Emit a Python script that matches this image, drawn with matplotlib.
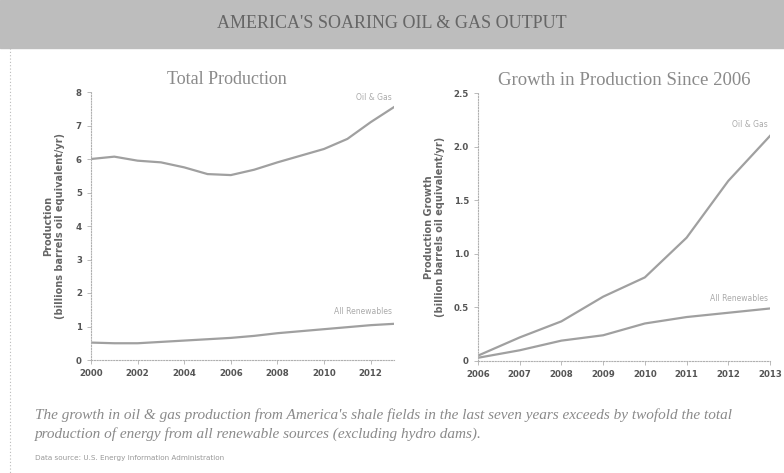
import matplotlib
matplotlib.use("Agg")
import matplotlib.pyplot as plt
import numpy as np

# total production (billion barrels oil equivalent / yr)
years_total = [2000, 2001, 2002, 2003, 2004, 2005, 2006, 2007, 2008, 2009, 2010, 2011, 2012, 2013]
oil_gas_total = [6.0, 6.07, 5.95, 5.9, 5.75, 5.55, 5.52, 5.68, 5.9, 6.1, 6.3, 6.6, 7.1, 7.55]
renew_total = [0.52, 0.5, 0.5, 0.54, 0.58, 0.62, 0.66, 0.72, 0.8, 0.86, 0.92, 0.98, 1.04, 1.08]

# growth since 2006
years_growth = [2006, 2007, 2008, 2009, 2010, 2011, 2012, 2013]
oil_gas_growth = [0.05, 0.22, 0.37, 0.6, 0.78, 1.15, 1.68, 2.1]
renew_growth = [0.03, 0.1, 0.19, 0.24, 0.35, 0.41, 0.45, 0.49]

line_col = "#a0a0a0"
txt_col = "#8a8a8a"
tick_col = "#555555"

fig = plt.figure(figsize=(7.84, 4.73), dpi=100)
W, H = 784, 473

def box(x0, y0, x1, y1):
    # pixel coords (top-left origin) -> figure fraction
    return [x0 / W, 1 - y1 / H, (x1 - x0) / W, (y1 - y0) / H]

# header band
fig.patches.append(plt.Rectangle((0, 1 - 48 / H), 1, 48 / H, transform=fig.transFigure,
                                 color="#bdbdbd", zorder=0))
fig.text(0.5, 1 - 23 / H, "AMERICA'S SOARING OIL & GAS OUTPUT", ha="center", va="center",
         fontsize=13, color="#666666", family="Liberation Serif")

# left dotted border
fig.add_artist(plt.Line2D([10 / W, 10 / W], [1 - 48 / H, 0], transform=fig.transFigure,
                          color="#bbbbbb", lw=0.8, ls=(0, (1, 2))))


def style(ax):
    for s in ["top", "right"]:
        ax.spines[s].set_visible(False)
    for s in ["left", "bottom"]:
        ax.spines[s].set_color("#b0b0b0")
        ax.spines[s].set_linestyle((0, (1, 1.5)))
        ax.spines[s].set_linewidth(0.8)
    ax.tick_params(colors="#b0b0b0", labelcolor=tick_col, labelsize=6.2, length=3, width=0.6)
    for lab in ax.get_xticklabels() + ax.get_yticklabels():
        lab.set_fontweight("bold")


# left panel
ax1 = fig.add_axes(box(91, 92, 394, 360))
ax1.plot(years_total, oil_gas_total, color=line_col, lw=1.6)
ax1.plot(years_total, renew_total, color=line_col, lw=1.6)
ax1.set_xlim(2000, 2013)
ax1.set_ylim(0, 8)
ax1.set_xticks([2000, 2002, 2004, 2006, 2008, 2010, 2012])
ax1.set_yticks(range(0, 9))
style(ax1)
ax1.set_ylabel("Production\n(billions barrels oil equivalent/yr)", fontsize=7, color="#666666",
               fontweight="bold", labelpad=8)
ax1.set_title("Total Production", fontsize=13, color=txt_col, family="Liberation Serif",
              pad=6, x=0.45)
ax1.text(2012.9, oil_gas_total[-1] + 0.2, "Oil & Gas", fontsize=5.5, color="#aaaaaa", ha="right")
ax1.text(2012.9, renew_total[-1] + 0.3, "All Renewables", fontsize=5.5, color="#aaaaaa", ha="right")

# right panel
ax2 = fig.add_axes(box(478, 93, 770, 361))
ax2.plot(years_growth, oil_gas_growth, color=line_col, lw=1.6)
ax2.plot(years_growth, renew_growth, color=line_col, lw=1.6)
ax2.set_xlim(2006, 2013)
ax2.set_ylim(0, 2.5)
ax2.set_xticks(years_growth)
ax2.set_yticks([0, 0.5, 1.0, 1.5, 2.0, 2.5])
ax2.set_yticklabels(["0", "0.5", "1.0", "1.5", "2.0", "2.5"])
style(ax2)
ax2.set_ylabel("Production Growth\n(billion barrels oil equivalent/yr)", fontsize=7, color="#666666",
               fontweight="bold", labelpad=6)
ax2.set_title("Growth in Production Since 2006", fontsize=13.5, color=txt_col,
              family="Liberation Serif", pad=6)
ax2.text(2012.95, oil_gas_growth[-1] + 0.08, "Oil & Gas", fontsize=5.5, color="#aaaaaa", ha="right")
ax2.text(2012.95, renew_growth[-1] + 0.07, "All Renewables", fontsize=5.5, color="#aaaaaa", ha="right")

# caption
fig.text(35 / W, 1 - 424.5 / H,
         "The growth in oil & gas production from America's shale fields in the last seven years exceeds by twofold the total\n"
         "production of energy from all renewable sources (excluding hydro dams).",
         fontsize=11, style="italic", color="#8a8a8a", family="Liberation Serif", va="center",
         linespacing=1.45)
fig.text(35 / W, 1 - 458 / H, "Data source: U.S. Energy Information Administration",
         fontsize=5.2, color="#999999", va="center")

fig.savefig("out.png", dpi=100)
